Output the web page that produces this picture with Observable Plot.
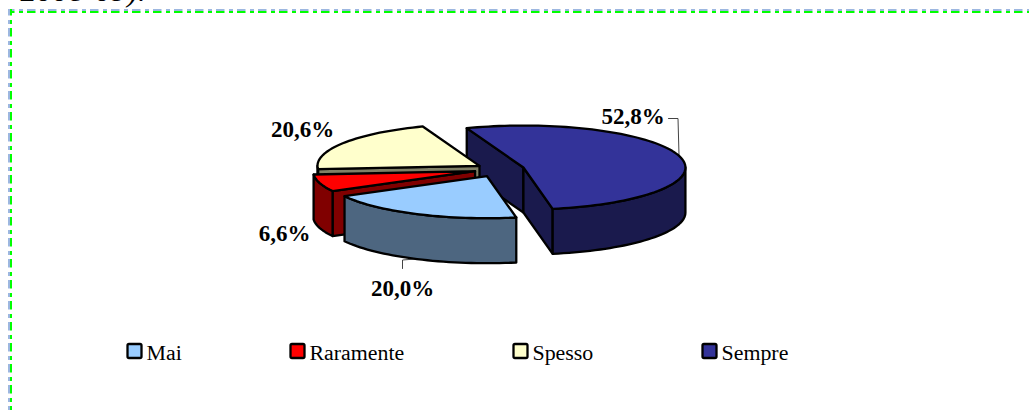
<!DOCTYPE html>
<html>
<head>
<meta charset="utf-8">
<style>html,body{margin:0;padding:0;background:#fff;overflow:hidden}svg{display:block}</style>
<script src="https://cdn.jsdelivr.net/npm/d3@7"></script>
<script src="https://cdn.jsdelivr.net/npm/@observablehq/plot@0.6"></script>
</head>
<body>
<div id="chart"></div>
<script>
// ---- data ----
const categories = ["Mai", "Raramente", "Spesso", "Sempre"];
const shares = [20.0, 6.6, 20.6, 52.8];
const shareLabels = ["20,0%", "6,6%", "20,6%", "52,8%"];
const captionFragment = "2008-09).";

// ---- styles ----
const topColors = ["#99CCFF", "#FF0000", "#FFFFCC", "#333399"];
const sideColors = ["#4D6680", "#800000", "#808066", "#1A1A4D"];

// ---- layout (pixel-valued scales) ----
const W = 1029, H = 410;
const pie = {cx: 499.5, cy: 168.7, rx: 162, ry: 42, depth: 45, startDeg: 169.6};
const explode = [30, 26, 24.3, 24.3];
const labelAnchors = [[402, 295], [284, 240], [302, 136], [632.5, 123]];
const legendSwatchX = [127.5, 290.5, 513.5, 702.5];
const legendY = 351;
const leaderLines = [
  [[415, 258.5], [402, 259.5], [402, 268]],
  [[668, 118], [677.5, 118], [678.5, 154]]
];

// ---- geometry from the values ----
const rad = d => d * Math.PI / 180;
let acc = pie.startDeg;
const slices = categories.map((name, i) => {
  const a0 = acc, a1 = acc + shares[i] * 3.6;
  acc = a1;
  const mid = rad((a0 + a1) / 2);
  return {
    name, i, a0, a1,
    c: [pie.cx + explode[i] * Math.sin(mid), pie.cy - explode[i] * pie.ry / pie.rx * Math.cos(mid)]
  };
});
const rim = (s, deg) => [s.c[0] + pie.rx * Math.sin(rad(deg)), s.c[1] - pie.ry * Math.cos(rad(deg))];
const arc = (s, a, b) => {
  const n = Math.max(2, Math.ceil(Math.abs(b - a) / 2));
  return d3.range(n + 1).map(k => rim(s, a + (b - a) * k / n));
};
const drop = p => [p[0], p[1] + pie.depth];

const polyMark = (pts, fill) =>
  Plot.line([...pts, pts[0], pts[1]], {x: d => d[0], y: d => d[1], fill, stroke: "#000", strokeWidth: 2.3,
    strokeLinejoin: "round", curve: "linear"});

// a radial wall is seen when the side of it away from the slice points down the screen
function wallVisible(s, deg, outerDeg) {
  const r = rim(s, deg), o = rim(s, outerDeg);
  const e = [r[0] - s.c[0], r[1] - s.c[1]], f = [o[0] - s.c[0], o[1] - s.c[1]];
  const t = (e[0] * f[0] + e[1] * f[1]) / (e[0] * e[0] + e[1] * e[1]);
  return f[1] - t * e[1] > 0;
}

function sliceMarks(s) {
  const side = sideColors[s.i], marks = [];
  for (const [deg, outerDeg] of [[s.a0, s.a0 - 90], [s.a1, s.a1 + 90]]) {
    if (!wallVisible(s, deg, outerDeg)) continue;
    const r = rim(s, deg);
    marks.push(polyMark([s.c, r, drop(r), drop(s.c)], side));
  }
  for (const shift of [0, 360]) {
    const a = Math.max(s.a0, 90 + shift), b = Math.min(s.a1, 270 + shift);
    if (b > a) {
      const top = arc(s, a, b);
      marks.push(polyMark([...top, ...top.map(drop).reverse()], side));
    }
  }
  marks.push(polyMark([s.c, ...arc(s, s.a0, s.a1)], topColors[s.i]));
  return marks;
}

// back to front
const drawOrder = [3, 2, 1, 0];
const pieMarks = drawOrder.flatMap(i => sliceMarks(slices[i]));

const borderY = [[9.5, "#9DB7E0"], [11.5, "#00FF00"]];
const borderX = [[8.5, "#9DB7E0"], [10.5, "#00FF00"]];
const dash = {strokeDasharray: "8.5,4.5,4,4", strokeDashoffset: 2};

const chart = Plot.plot({
  width: W, height: H,
  margin: 0,
  x: {domain: [0, W], range: [0, W], axis: null},
  y: {domain: [0, H], range: [0, H], axis: null},
  marks: [
    Plot.text([captionFragment], {x: 20, y: 0.5, text: d => d, textAnchor: "start", lineAnchor: "bottom",
      fontFamily: "Liberation Serif", fontStyle: "italic", fontSize: 32, fill: "#000"}),
    ...borderY.map(([y, c]) => Plot.ruleY([y], {x1: 8, x2: W, stroke: c, strokeWidth: 2, ...dash})),
    ...borderX.map(([x, c]) => Plot.ruleX([x], {y1: 9, y2: H, stroke: c, strokeWidth: 2, ...dash})),
    ...leaderLines.map(l => Plot.line(l, {x: d => d[0], y: d => d[1], stroke: "#444", strokeWidth: 1})),
    ...pieMarks,
    Plot.text(shareLabels, {
      x: (d, i) => labelAnchors[i][0], y: (d, i) => labelAnchors[i][1], text: d => d,
      lineAnchor: "bottom", fontFamily: "Liberation Serif", fontWeight: "bold", fontSize: 23, fill: "#000"
    }),
    Plot.rect(categories, {
      x1: (d, i) => legendSwatchX[i], x2: (d, i) => legendSwatchX[i] + 14,
      y1: legendY - 7, y2: legendY + 7, fill: (d, i) => topColors[i],
      stroke: "#000", strokeWidth: 2.3, rx: 1.5
    }),
    Plot.text(categories, {
      x: (d, i) => legendSwatchX[i] + 18.5, y: legendY + 8, text: d => d, textAnchor: "start", lineAnchor: "bottom",
      fontFamily: "Liberation Serif", fontSize: 21.9, fill: "#000"
    })
  ]
});
document.getElementById("chart").append(chart);
</script>
</body>
</html>
